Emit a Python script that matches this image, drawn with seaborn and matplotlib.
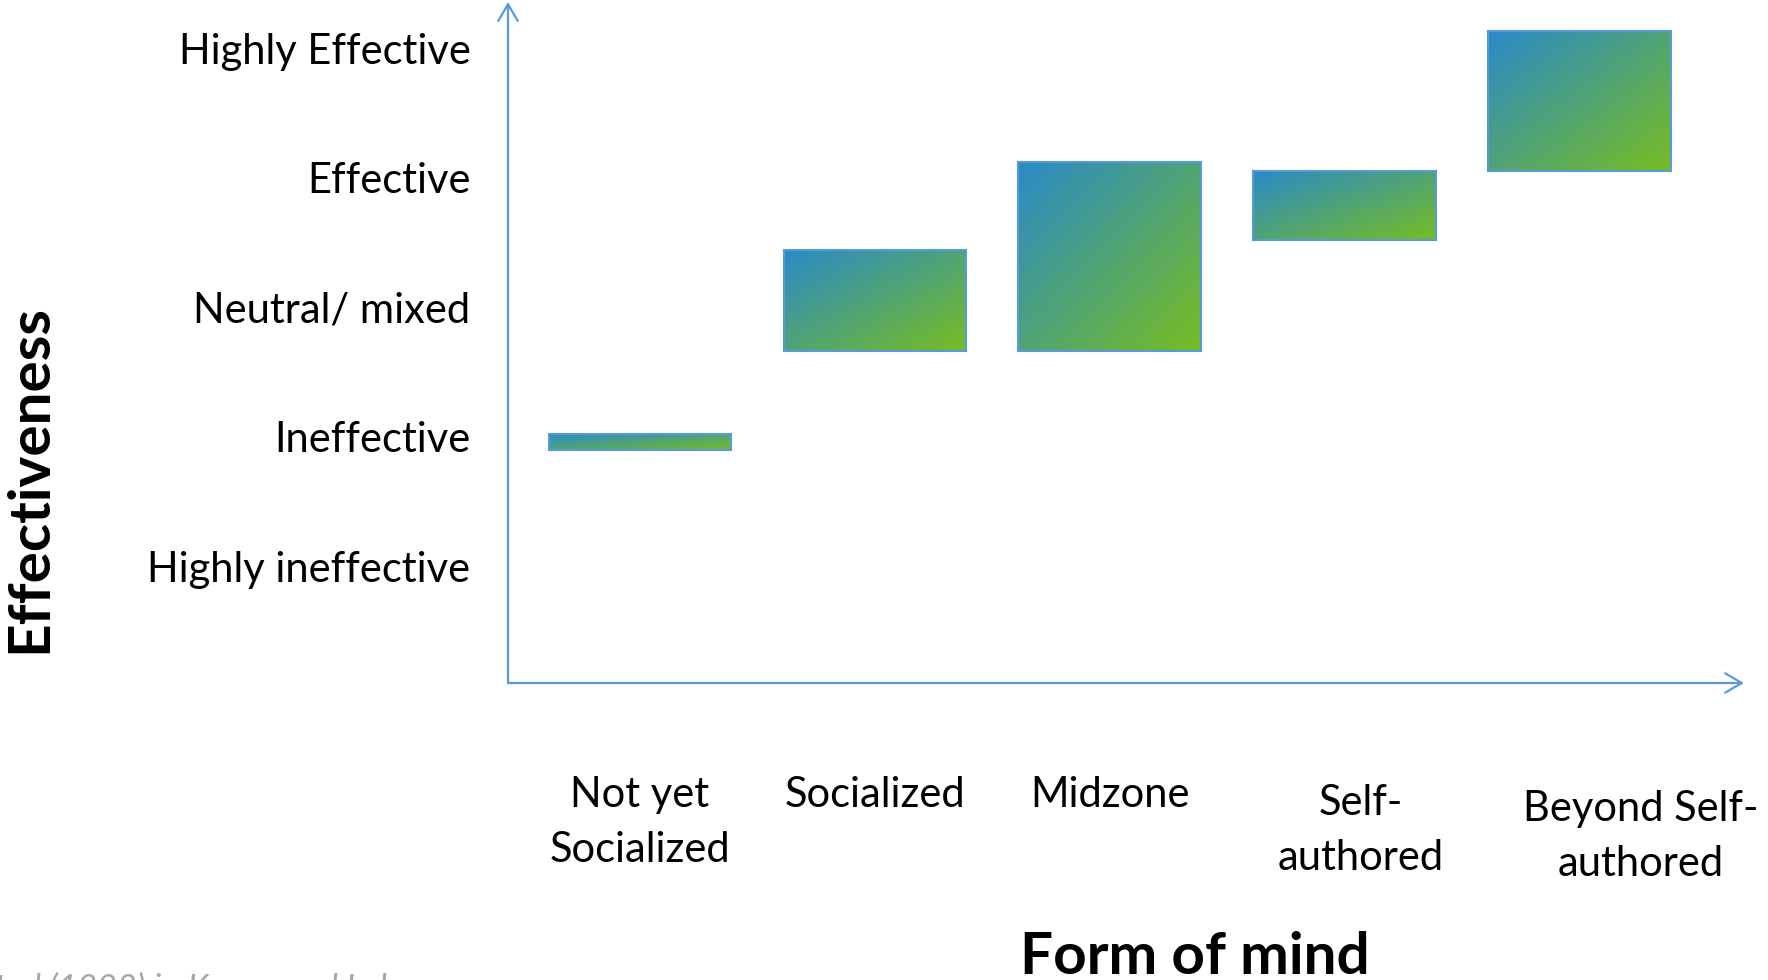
import numpy as np
import pandas as pd
import matplotlib
matplotlib.use("Agg")
import matplotlib.pyplot as plt
from matplotlib.colors import LinearSegmentedColormap
from matplotlib.transforms import ScaledTranslation
import seaborn as sns

# Developmental stages and the effectiveness range each one spans
stages = ["Not yet\nSocialized", "Socialized", "Midzone", "Self-\nauthored", "Beyond Self-\nauthored"]
range_low = [1.90, 2.66, 2.66, 3.52, 4.05]
range_high = [2.02, 3.44, 4.12, 4.05, 5.13]

# Effectiveness scale
level_values = [1, 2, 3, 4, 5]
level_labels = ["Highly ineffective", "Ineffective", "Neutral/ mixed", "Effective", "Highly Effective"]

source_note = "Torbert, cited (1998) in Kegan and Lahey"

sns.set_theme(style="white")
plt.rcParams["font.family"] = ["Lato", "DejaVu Sans"]

AXIS_BLUE = "#5B9BD5"
grad_cmap = LinearSegmentedColormap.from_list("blue_green", ["#2A8AC9", "#77BD22"])

df = pd.DataFrame({"stage": stages, "low": range_low, "high": range_high})
df["span"] = df["high"] - df["low"]

fig = plt.figure(figsize=(17.68, 9.8), dpi=100)
ax = fig.add_axes([508 / 1768, 297 / 980, 1236 / 1768, 681 / 980])

# Floating bars: each bar starts at the low end of its range
sns.barplot(
    data=df, x="stage", y="span", order=stages,
    bottom=df["low"].to_numpy(), errorbar=None, width=0.775,
    color=AXIS_BLUE, facecolor="none", edgecolor=AXIS_BLUE, linewidth=1.5, ax=ax,
)

# Diagonal blue-to-green fill inside every bar
u, v = np.meshgrid(np.linspace(0, 1, 256), np.linspace(0, 1, 256))
grad = (u + v) / 2
for bar in ax.patches:
    x0, y0 = bar.get_x(), bar.get_y()
    w, h = bar.get_width(), bar.get_height()
    im = ax.imshow(grad, cmap=grad_cmap, vmin=0, vmax=1, origin="upper",
                   extent=(x0, x0 + w, y0, y0 + h), aspect="auto",
                   interpolation="bilinear", zorder=1)
    im.set_clip_path(bar)
    bar.set_zorder(2)

ax.set_xlim(-0.56, 4.70)
ax.set_ylim(0.10, 5.357)

ax.set_yticks(level_values, level_labels)
ax.tick_params(axis="y", length=0, pad=27, labelsize=30, labelcolor="black")
ax.tick_params(axis="x", length=0, pad=67, labelsize=30, labelcolor="black")

for s in ax.spines.values():
    s.set_visible(False)

# Axis lines drawn as arrows
arrow_kw = dict(arrowstyle="->,head_length=0.6,head_width=0.35", color=AXIS_BLUE,
                lw=1.6, shrinkA=0, shrinkB=0, mutation_scale=20)
ax.annotate("", xy=(0, 1), xytext=(0, 0), xycoords="axes fraction",
            arrowprops=arrow_kw, annotation_clip=False)
ax.annotate("", xy=(1, 0), xytext=(0, 0), xycoords="axes fraction",
            arrowprops=arrow_kw, annotation_clip=False)

ax.set_xlabel("Form of mind", fontsize=42, fontweight="bold", va="center", color="black")
ax.xaxis.set_label_coords(0.556, -0.4024)
ax.set_ylabel("Effectiveness", fontsize=42, fontweight="bold", va="center", color="black")
ax.yaxis.set_label_coords(-0.3867, 0.2996)

# Category labels: taller line spacing, last two nudged right and down
label_shift = [(0, 0), (0, 0), (0, 0), (16, 8), (61, 14)]
for lbl, (dx, dy) in zip(ax.get_xticklabels(), label_shift):
    lbl.set_linespacing(1.55)
    if dx or dy:
        lbl.set_transform(lbl.get_transform()
                          + ScaledTranslation(dx / 100, -dy / 100, fig.dpi_scale_trans))

fig.text(430 / 1768, 1 - 972 / 980, source_note, ha="right", va="top",
         style="italic", color="#A6A6A6", fontsize=24.5)

fig.savefig("out.png", dpi=100)
